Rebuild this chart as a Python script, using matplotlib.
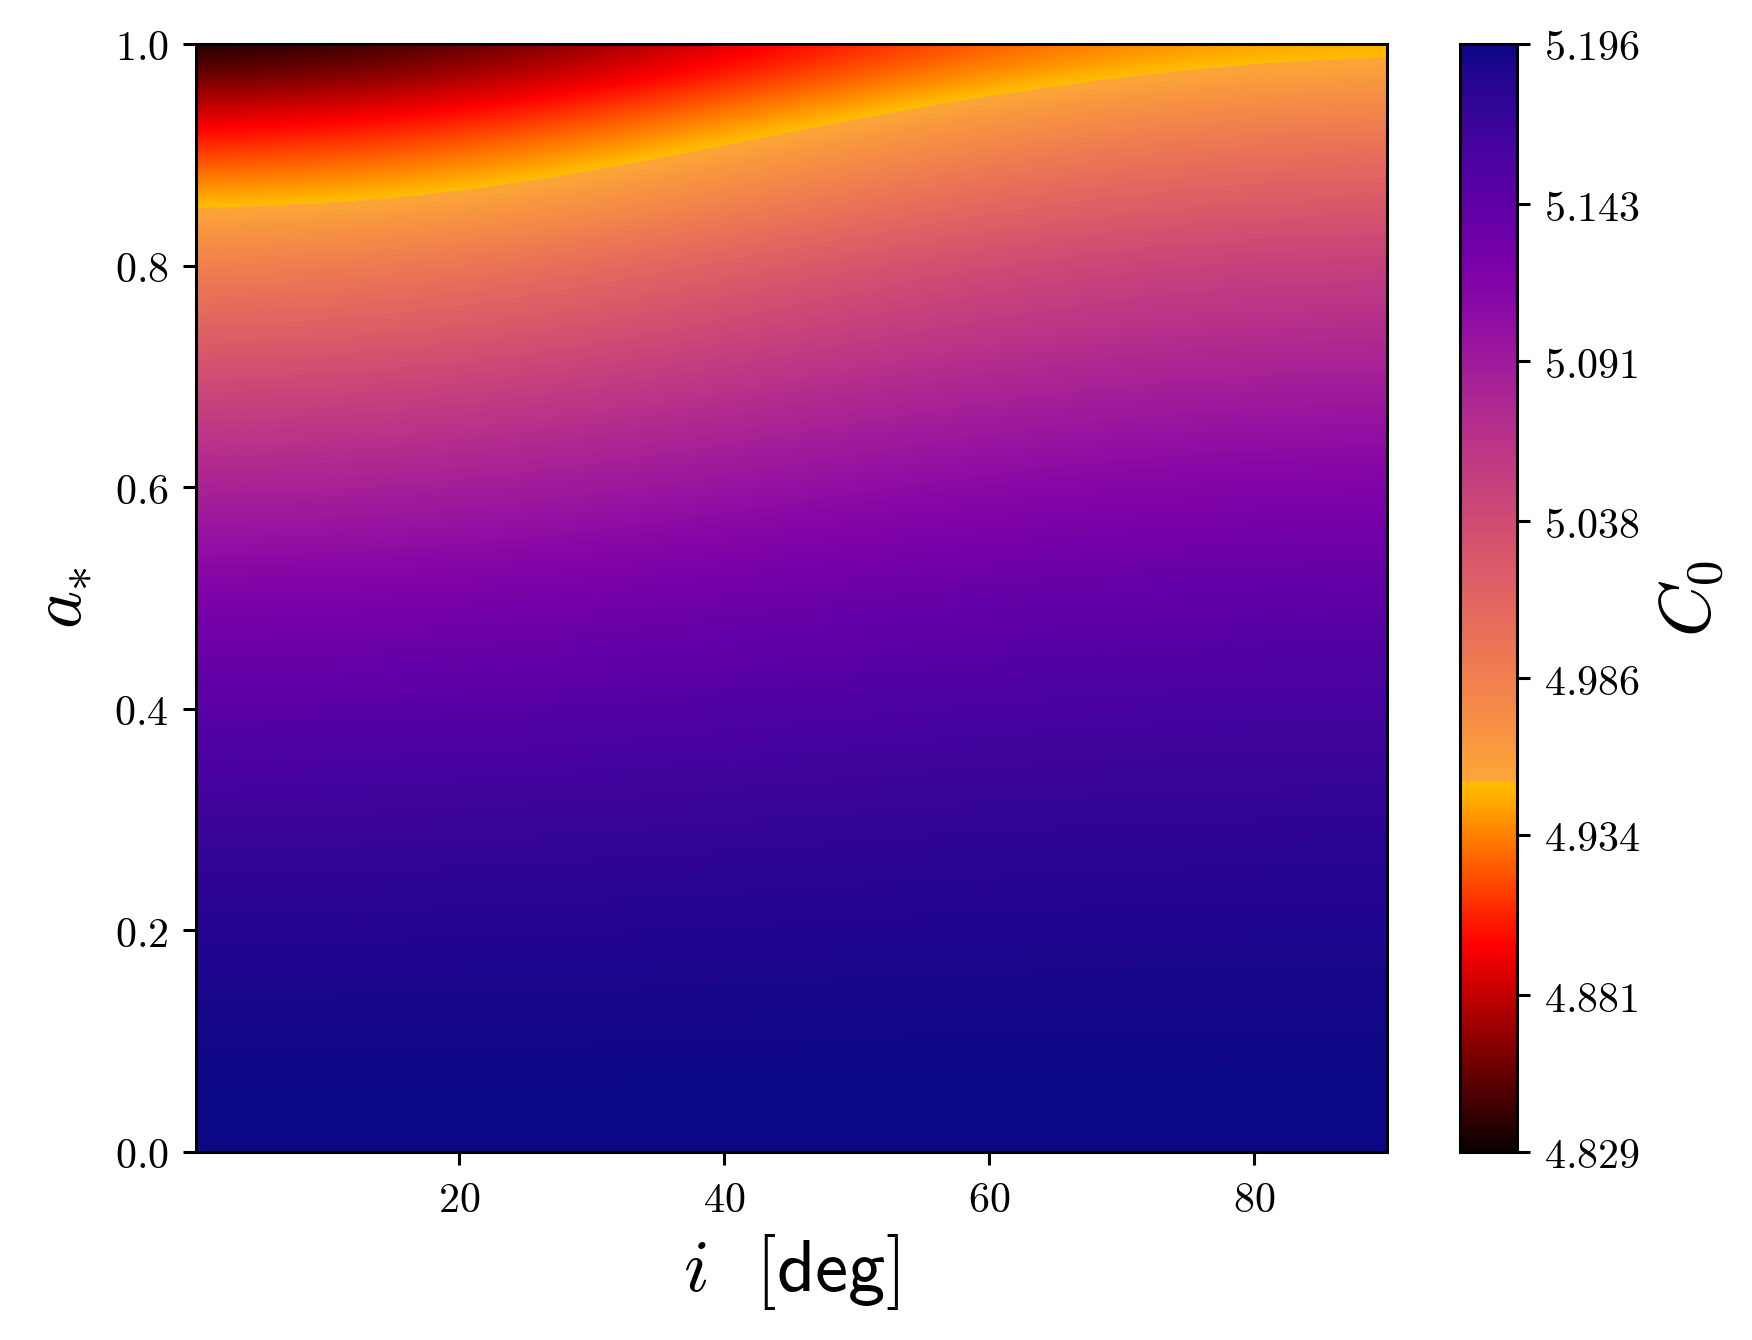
import numpy as np
import matplotlib
matplotlib.use("Agg")
import matplotlib.pyplot as plt
from matplotlib.colors import ListedColormap, Normalize

plt.rcParams['mathtext.fontset'] = 'cm'

# ---- data ----
incl_deg = [0, 15, 30, 45, 60, 75, 90]                     # i [deg], grid columns
spin = [0.00, 0.05, 0.10, 0.15, 0.20, 0.25, 0.30, 0.35, 0.40, 0.45, 0.50,
        0.55, 0.60, 0.65, 0.70, 0.75, 0.80, 0.85, 0.90, 0.95, 1.00]  # a_*, grid rows

C0_i00 = [5.1960, 5.1954, 5.1932, 5.1894, 5.1841, 5.1773, 5.1689, 5.1587, 5.1470, 5.1334, 5.1200,
          5.1006, 5.0813, 5.0598, 5.0360, 5.0098, 4.9860, 4.9530, 4.9160, 4.8750, 4.8290]
C0_i15 = [5.1960, 5.1954, 5.1933, 5.1896, 5.1845, 5.1779, 5.1697, 5.1598, 5.1485, 5.1353, 5.1223,
          5.1035, 5.0847, 5.0639, 5.0408, 5.0154, 4.9923, 4.9574, 4.9244, 4.8846, 4.8400]
C0_i30 = [5.1960, 5.1955, 5.1935, 5.1900, 5.1852, 5.1791, 5.1715, 5.1622, 5.1517, 5.1393, 5.1272,
          5.1097, 5.0922, 5.0727, 5.0512, 5.0275, 5.0059, 4.9734, 4.9426, 4.9055, 4.8639]
C0_i45 = [5.1960, 5.1955, 5.1937, 5.1906, 5.1862, 5.1807, 5.1738, 5.1654, 5.1558, 5.1447, 5.1337,
          5.1178, 5.1019, 5.0843, 5.0648, 5.0433, 5.0238, 4.9943, 4.9664, 4.9328, 4.8951]
C0_i60 = [5.1960, 5.1956, 5.1939, 5.1911, 5.1871, 5.1821, 5.1758, 5.1682, 5.1595, 5.1494, 5.1394,
          5.1249, 5.1105, 5.0945, 5.0768, 5.0573, 5.0395, 5.0127, 4.9874, 4.9560, 4.9200]
C0_i75 = [5.1960, 5.1956, 5.1940, 5.1914, 5.1877, 5.1829, 5.1770, 5.1699, 5.1617, 5.1522, 5.1428,
          5.1292, 5.1157, 5.1007, 5.0840, 5.0657, 5.0490, 5.0238, 5.0000, 4.9710, 4.9365]
C0_i90 = [5.1960, 5.1956, 5.1941, 5.1915, 5.1879, 5.1832, 5.1775, 5.1706, 5.1626, 5.1533, 5.1442,
          5.1309, 5.1178, 5.1031, 5.0869, 5.0690, 5.0528, 5.0282, 5.0045, 4.9765, 4.9420]

C0_min, C0_max = 4.829, 5.196
C0_break = 4.9515          # where the colour map switches from 'hot' to 'plasma'
cbar_ticks = [4.829, 4.881, 4.934, 4.986, 5.038, 5.091, 5.143, 5.196]
x_ticks = [20, 40, 60, 80]
y_ticks = [0.0, 0.2, 0.4, 0.6, 0.8, 1.0]

# ---- colour map: hot (low) + plasma reversed (high) ----
N = 1024
frac = (C0_break - C0_min) / (C0_max - C0_min)
n_lo = int(round(frac * N))
n_hi = N - n_lo
lo = plt.get_cmap('hot')(np.linspace(0.0, 0.65, n_lo))
hi = plt.get_cmap('plasma')(np.linspace(0.80, 0.0, n_hi))
cmap = ListedColormap(np.vstack([lo, hi]))
norm = Normalize(vmin=C0_min, vmax=C0_max)

Z = np.array([C0_i00, C0_i15, C0_i30, C0_i45, C0_i60, C0_i75, C0_i90]).T

fig = plt.figure(figsize=(1752 / 275, 1340 / 275), dpi=275)
ax = fig.add_axes([195.5 / 1752, 1 - 1152 / 1340, (1386.6 - 195.5) / 1752, (1152 - 44) / 1340])
cax = fig.add_axes([1460 / 1752, 1 - 1152 / 1340, 57 / 1752, (1152 - 44) / 1340])

di = (incl_deg[1] - incl_deg[0]) / 2
da = (spin[1] - spin[0]) / 2
im = ax.imshow(Z, origin='lower', aspect='auto', cmap=cmap, norm=norm,
               extent=[incl_deg[0] - di, incl_deg[-1] + di, spin[0] - da, spin[-1] + da],
               interpolation='bicubic', interpolation_stage='data')
ax.set_xlim(0.1, 90)
ax.set_ylim(0, 1)
ax.set_xticks(x_ticks)
ax.set_xticklabels([f'${t:d}$' for t in x_ticks])
ax.set_yticks(y_ticks)
ax.set_yticklabels([f'${t:.1f}$' for t in y_ticks])
ax.tick_params(labelsize=11)
ax.set_xlabel(r'$i\;\;\,[\mathsf{deg}]$', fontsize=19.5, labelpad=3)
ax.set_ylabel(r'$a_{*}$', fontsize=19, labelpad=5)

cb = fig.colorbar(im, cax=cax)
cb.set_ticks(cbar_ticks)
cb.set_ticklabels([f'${t:.3f}$' for t in cbar_ticks])
cb.ax.tick_params(labelsize=11)
cb.set_label(r'$C_0$', fontsize=19)

fig.savefig('out.png', dpi=275)
